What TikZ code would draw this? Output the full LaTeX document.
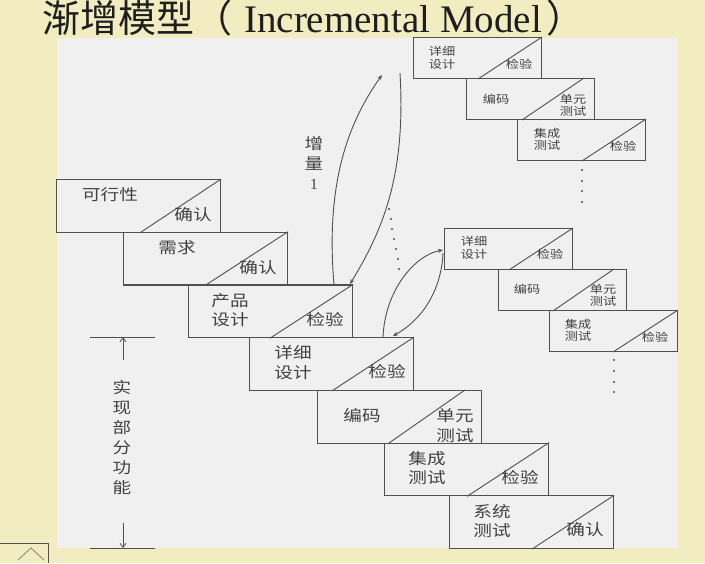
\documentclass[tikz,border=0pt]{standalone}
\usepackage{fontspec}
\setmainfont{Liberation Serif}
\newfontfamily\cjk{Noto Sans CJK SC}
\newfontfamily\cjkw[FakeStretch=1.2]{Noto Sans CJK SC}
\usetikzlibrary{arrows.meta,calc}
\definecolor{bgyellow}{RGB}{242,237,193}
\definecolor{panelgray}{RGB}{240,240,240}
\definecolor{linec}{RGB}{80,80,80}
\definecolor{textc}{RGB}{65,65,65}
\definecolor{titlec}{RGB}{30,30,30}
\tikzset{
  bigbox/.style={draw=linec, line width=1.1pt, rectangle, inner sep=0pt, anchor=north west, minimum width=164pt, minimum height=52.7pt},
  smallbox/.style={draw=linec, line width=1.0pt, rectangle, inner sep=0pt, anchor=north west, minimum width=128pt, minimum height=41pt},
  diag/.style={draw=linec, line width=0.9pt},
  bigtxt/.style={text=textc, inner sep=0pt, align=center, font=\cjkw\fontsize{15.5}{19.5}\selectfont},
  smalltxt/.style={text=textc, inner sep=0pt, align=center, font=\cjkw\fontsize{11}{12.5}\selectfont},
  sidetxt/.style={text=textc, inner sep=0pt, align=center, font=\cjkw\fontsize{15.5}{20}\selectfont},
  flow/.style={draw=linec, line width=0.9pt, -{Stealth[length=5pt,width=4pt]}},
  dimline/.style={draw=linec, line width=0.8pt},
  titletxt/.style={text=titlec, inner sep=0pt, anchor=base west}
}
\begin{document}
\begin{tikzpicture}[x=1pt,y=-1pt]
\useasboundingbox (0,0) rectangle (705,563);
\fill[bgyellow] (0,0) rectangle (705,563);
\fill[panelgray] (57,38) rectangle (678,548);

% title
\node[titletxt, font=\cjk\fontsize{38}{40}\selectfont] (ti1) at (42,32) {渐增模型（};
\node[titletxt, font=\fontsize{39}{40}\selectfont] (ti2) at (244,32) {Incremental Model};
\node[titletxt, font=\cjk\fontsize{38}{40}\selectfont] (ti3) at (546,32) {）};

% main staircase
\node[bigbox] (b1) at (56,179) {};
\node[bigbox] (b2) at (123,231.7) {};
\node[bigbox] (b3) at (188,284.4) {};
\node[bigbox] (b4) at (249,337.1) {};
\node[bigbox] (b5) at (317,389.9) {};
\node[bigbox] (b6) at (384,442.6) {};
\node[bigbox] (b7) at (449,495.3) {};
\draw[diag] ($(b1.south west)+(84,0)$) -- (b1.north east);
\draw[diag] ($(b2.south west)+(82,0)$) -- (b2.north east);
\draw[diag] ($(b3.south west)+(82,0)$) -- (b3.north east);
\draw[diag] ($(b4.south west)+(83,0)$) -- (b4.north east);
\draw[diag] ($(b5.south west)+(71,0)$) -- ($(b5.north east)+(-17,0)$);
\draw[diag] ($(b6.south west)+(83,0)$) -- (b6.north east);
\draw[diag] ($(b7.south west)+(83,0)$) -- (b7.north east);

\node[bigtxt] (b1a) at (110,195) {可行性};
\node[bigtxt] (b1b) at (193,215) {确认};
\node[bigtxt] (b2a) at (177,248) {需求};
\node[bigtxt] (b2b) at (258,268) {确认};
\node[bigtxt] (b3a) at (230,310) {产品\\设计};
\node[bigtxt] (b3b) at (325,320) {检验};
\node[bigtxt] (b4a) at (293,362.5) {详细\\设计};
\node[bigtxt] (b4b) at (387,372) {检验};
\node[bigtxt] (b5a) at (362,416) {编码};
\node[bigtxt] (b5b) at (455,425.5) {单元\\测试};
\node[bigtxt] (b6a) at (427,468) {集成\\测试};
\node[bigtxt] (b6b) at (520,478) {检验};
\node[bigtxt] (b7a) at (492,521) {系统\\测试};
\node[bigtxt] (b7b) at (585,530) {确认};

% increment series 1 (top right)
\node[smallbox] (a1) at (413,37) {};
\node[smallbox] (a2) at (466,78) {};
\node[smallbox] (a3) at (517,119) {};
\draw[diag] ($(a1.south west)+(65,0)$) -- (a1.north east);
\draw[diag] ($(a2.south west)+(56,0)$) -- ($(a2.north east)+(-11,0)$);
\draw[diag] ($(a3.south west)+(65,0)$) -- (a3.north east);
\node[smalltxt] (a1a) at (442,58) {详细\\设计};
\node[smalltxt] (a1b) at (519,64) {检验};
\node[smalltxt] (a2a) at (496,99) {编码};
\node[smalltxt] (a2b) at (573,105.5) {单元\\测试};
\node[smalltxt] (a3a) at (547,139.5) {集成\\测试};
\node[smalltxt] (a3b) at (623,146) {检验};
\foreach \yy in {170,181,191,202} \fill[linec] (582,\yy) circle (1.1pt);

% increment series 2 (middle right)
\node[smallbox] (c1) at (444,228) {};
\node[smallbox] (c2) at (498,269) {};
\node[smallbox] (c3) at (549,310) {};
\draw[diag] ($(c1.south west)+(65,0)$) -- (c1.north east);
\draw[diag] ($(c2.south west)+(55,0)$) -- ($(c2.north east)+(-13,0)$);
\draw[diag] ($(c3.south west)+(64,0)$) -- (c3.north east);
\node[smalltxt] (c1a) at (474,248) {详细\\设计};
\node[smalltxt] (c1b) at (550,254) {检验};
\node[smalltxt] (c2a) at (527,289) {编码};
\node[smalltxt] (c2b) at (603,295.5) {单元\\测试};
\node[smalltxt] (c3a) at (578,330.5) {集成\\测试};
\node[smalltxt] (c3b) at (655,337) {检验};
\foreach \yy in {360,371,382,392} \fill[linec] (614,\yy) circle (1.1pt);

% curved connectors
\coordinate (u1s) at (334,284.4);
\coordinate (u1e) at (382,75);
\coordinate (d1s) at (400,73);
\coordinate (d1e) at (350,284);
\draw[flow] (u1s) .. controls (325,180) and (350,120) .. (u1e);
\draw[flow] (d1s) .. controls (406,175) and (383,230) .. (d1e);
\coordinate (u2s) at (383,337.1);
\coordinate (u2e) at (443,250);
\coordinate (d2s) at (443,253);
\coordinate (d2e) at (393,336);
\draw[flow] (u2s) .. controls (385,290) and (415,255) .. (u2e);
\draw[flow] (d2s) .. controls (442,280) and (430,315) .. (d2e);
\foreach \xx/\yy in {389/209,391/219,392/229,394/239,396/249,398/259,399/269} \fill[linec] (\xx,\yy) circle (1.1pt);

\node[sidetxt] (inc) at (314,163) {增\\量\\{\rmfamily 1}};

% dimension: implement partial function
\coordinate (dtl) at (90,337.1);
\coordinate (dtr) at (155,337.1);
\coordinate (dbl) at (90,548);
\coordinate (dbr) at (155,548);
\coordinate (dta) at (123,360);
\coordinate (dtt) at (123,337.1);
\coordinate (dba) at (123,523);
\coordinate (dbt) at (123,548);
\draw[dimline] (dtl) -- (dtr);
\draw[dimline] (dbl) -- (dbr);
\draw[dimline, -{Straight Barb[length=4pt,width=6pt]}] (dta) -- (dtt);
\draw[dimline, -{Straight Barb[length=4pt,width=6pt]}] (dba) -- (dbt);
\node[sidetxt] (dimtxt) at (122,438) {实\\现\\部\\分\\功\\能};

% bottom-left toolbar fragment
\draw[draw=linec, line width=1pt] (0,543) -- (48,543) -- (48,563);
\draw[draw=gray, line width=0.8pt] (18,560) -- (31,548) -- (44,560);
\end{tikzpicture}
\end{document}
